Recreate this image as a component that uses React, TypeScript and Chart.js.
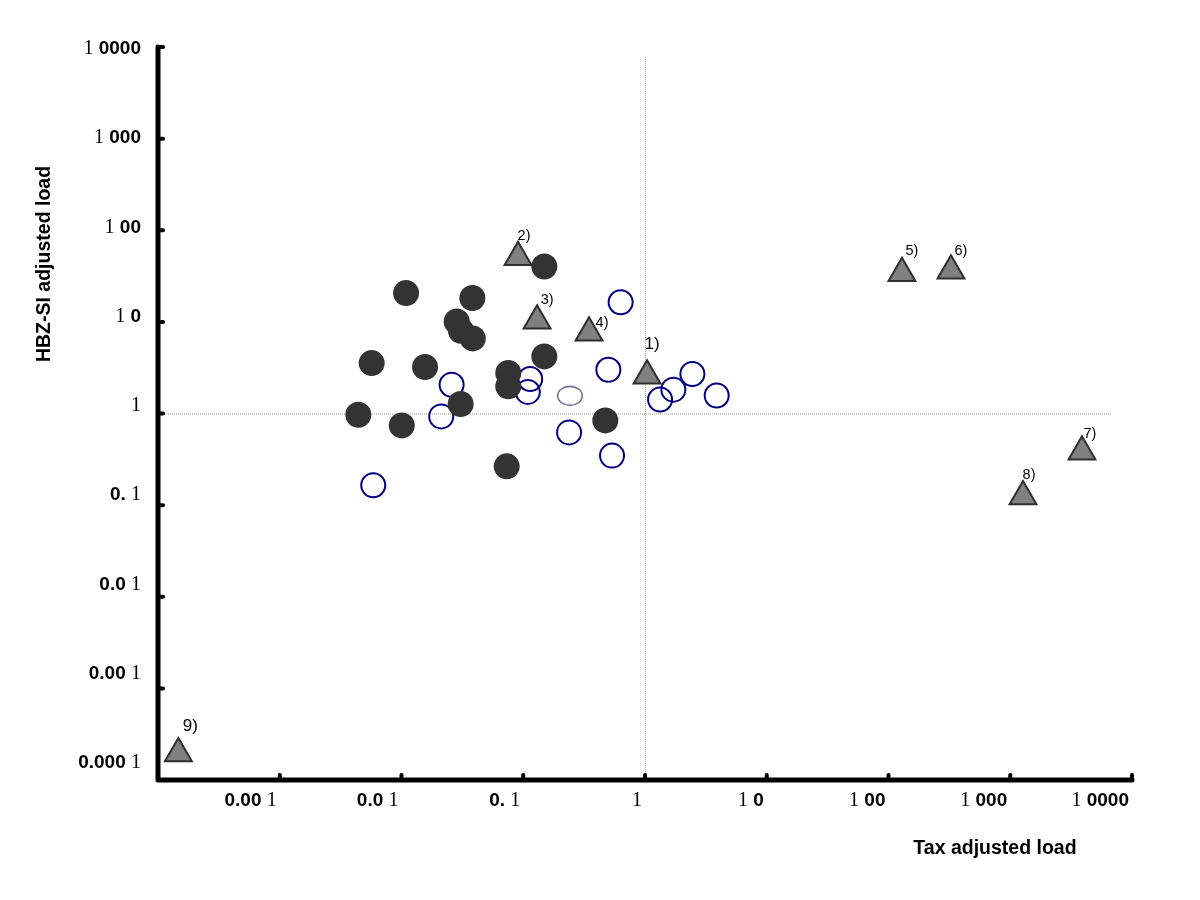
import React, { useEffect, useRef } from "react";
import { Chart, registerables } from "chart.js";

Chart.register(...registerables);

// Axis decades and their printed labels
const tickValues = [0.0001, 0.001, 0.01, 0.1, 1, 10, 100, 1000, 10000];
const tickLabels = ["0.000 1", "0.00 1", "0.0 1", "0. 1", "1", "1 0", "1 00", "1 000", "1 0000"];

// Numbered samples (grey triangles)
const triangleNames = ["1)", "2)", "3)", "4)", "5)", "6)", "7)", "8)", "9)"];
const triangleX = [1.04, 0.0906, 0.13, 0.347, 129, 326, 3882, 1273, 0.000147];
const triangleY = [2.58, 50.6, 10.3, 7.6, 33.9, 36.1, 0.383, 0.124, 0.000195];

// Filled dark circles
const filledX = [0.149, 0.0109, 0.0382, 0.0284, 0.0308, 0.0385, 0.00569, 0.0156, 0.149, 0.0753, 0.0753, 0.0306, 0.00442, 0.01005, 0.472, 0.0731];
const filledY = [40.2, 20.6, 18.2, 10.1, 8.0, 6.6, 3.55, 3.22, 4.2, 2.77, 1.98, 1.27, 0.97, 0.741, 0.841, 0.265];

// Open navy circles
const openX = [0.631, 0.0258, 0.114, 0.109, 0.5, 0.0212, 0.238, 0.536, 0.00586, 1.33, 1.71, 2.45, 3.88];
const openY = [16.4, 2.06, 2.38, 1.72, 3.0, 0.93, 0.622, 0.347, 0.165, 1.42, 1.82, 2.7, 1.57];

// Thin outlined ellipse
const thinX = [0.242];
const thinY = [1.56];

// Reference lines
const refX = 1;
const refY = 1;

const xTitle = "Tax adjusted load";
const yTitle = "HBZ-SI adjusted load";

// label styling (pixel offsets from marker centre, font size)
const triangleLabelStyle = [
  { dx: 5, dy: -31, size: 17 },
  { dx: 6, dy: -21, size: 14.5 },
  { dx: 10, dy: -21, size: 14.5 },
  { dx: 13, dy: -10, size: 14.5 },
  { dx: 10, dy: -22, size: 14.5 },
  { dx: 10, dy: -20, size: 14.5 },
  { dx: 8, dy: -18, size: 14.5 },
  { dx: 6, dy: -22, size: 14.5 },
  { dx: 12, dy: -27, size: 17 },
];

const SANS = '"Liberation Sans", Arial, sans-serif';
const SERIF = '"Liberation Serif", "Times New Roman", serif';

function drawMixed(ctx: CanvasRenderingContext2D, text: string, x: number, y: number, align: "right" | "center") {
  const segs: { t: string; serif: boolean }[] = [];
  for (const ch of text) {
    const serif = ch === "1";
    const last = segs[segs.length - 1];
    if (last && last.serif === serif) last.t += ch;
    else segs.push({ t: ch, serif });
  }
  const fontOf = (s: boolean) => (s ? `20px ${SERIF}` : `bold 19px ${SANS}`);
  let total = 0;
  const widths = segs.map((s) => {
    ctx.font = fontOf(s.serif);
    const w = ctx.measureText(s.t).width;
    total += w;
    return w;
  });
  let cx = align === "right" ? x - total : x - total / 2;
  ctx.textAlign = "left";
  ctx.textBaseline = "middle";
  ctx.fillStyle = "#000";
  segs.forEach((s, i) => {
    ctx.font = fontOf(s.serif);
    ctx.fillText(s.t, cx, y);
    cx += widths[i];
  });
}

const decoPlugin = {
  id: "deco",
  beforeDatasetsDraw(chart: any) {
    const { ctx, chartArea, scales } = chart;
    const { left, right, top, bottom } = chartArea;
    const px = scales.x.getPixelForValue(refX);
    const py = scales.y.getPixelForValue(refY);
    ctx.save();
    ctx.strokeStyle = "#a0a0a0";
    ctx.lineWidth = 1;
    ctx.setLineDash([1, 1]);
    ctx.beginPath();
    ctx.moveTo(px + 0.5, top + 10);
    ctx.lineTo(px + 0.5, bottom);
    ctx.moveTo(left, py + 0.5);
    ctx.lineTo(right - 20, py + 0.5);
    ctx.stroke();
    ctx.restore();
  },
  afterDraw(chart: any) {
    const { ctx, chartArea, scales } = chart;
    const { left, right, top, bottom } = chartArea;
    ctx.save();
    // axes
    ctx.strokeStyle = "#000";
    ctx.lineWidth = 5;
    ctx.lineCap = "round";
    ctx.lineJoin = "round";
    ctx.beginPath();
    ctx.moveTo(left, top);
    ctx.lineTo(left, bottom);
    ctx.lineTo(right, bottom);
    ctx.stroke();
    ctx.lineWidth = 4;
    tickValues.forEach((v, i) => {
      if (i === 0) return;
      const yy = scales.y.getPixelForValue(v);
      ctx.beginPath();
      ctx.moveTo(left, yy);
      ctx.lineTo(left + 5, yy);
      ctx.stroke();
      const xx = scales.x.getPixelForValue(v);
      ctx.beginPath();
      ctx.moveTo(xx, bottom);
      ctx.lineTo(xx, bottom - 5);
      ctx.stroke();
    });
    // tick labels
    tickValues.forEach((v, i) => {
      const yy = scales.y.getPixelForValue(v);
      const ly = top + 2 + (yy - top) * 0.974;
      drawMixed(ctx, tickLabels[i], left - 17, ly, "right");
      if (i > 0) {
        const xx = scales.x.getPixelForValue(v);
        drawMixed(ctx, tickLabels[i], xx - 3, bottom + 21, "right");
      }
    });
    // titles
    ctx.fillStyle = "#000";
    ctx.font = `bold 19.5px ${SANS}`;
    ctx.textAlign = "center";
    ctx.textBaseline = "middle";
    ctx.fillText(xTitle, 995, bottom + 69);
    ctx.save();
    ctx.translate(45, 264);
    ctx.rotate(-Math.PI / 2);
    ctx.fillText(yTitle, 0, 0);
    ctx.restore();
    // triangle labels
    const meta = chart.getDatasetMeta(0);
    meta.data.forEach((pt: any, i: number) => {
      const st = triangleLabelStyle[i];
      ctx.font = `${st.size}px ${SANS}`;
      ctx.textAlign = "center";
      ctx.textBaseline = "middle";
      ctx.fillStyle = "#000";
      ctx.fillText(triangleNames[i], pt.x + st.dx, pt.y + st.dy);
    });
    ctx.restore();
  },
};

export default function App() {
  const ref = useRef<HTMLCanvasElement | null>(null);
  useEffect(() => {
    if (!ref.current) return;
    const ell = document.createElement("canvas");
    ell.width = 28;
    ell.height = 22;
    const ec = ell.getContext("2d")!;
    ec.strokeStyle = "#5a5a80";
    ec.lineWidth = 1.3;
    ec.beginPath();
    ec.ellipse(14, 11, 12.3, 9.5, 0, 0, Math.PI * 2);
    ec.stroke();

    const chart = new Chart(ref.current, {
      type: "scatter",
      data: {
        datasets: [
          {
            label: "Numbered",
            data: triangleX.map((x, i) => ({ x, y: triangleY[i] })),
            pointStyle: "triangle",
            pointRadius: 15.5,
            backgroundColor: "#808080",
            borderColor: "#2e2e2e",
            borderWidth: 2,
          },
          {
            label: "Filled",
            data: filledX.map((x, i) => ({ x, y: filledY[i] })),
            pointStyle: "circle",
            pointRadius: 13,
            backgroundColor: "#333333",
            borderColor: "#333333",
            borderWidth: 0,
          },
          {
            label: "Thin",
            data: thinX.map((x, i) => ({ x, y: thinY[i] })),
            pointStyle: ell as any,
            pointRadius: 12,
          },
          {
            label: "Open",
            data: openX.map((x, i) => ({ x, y: openY[i] })),
            pointStyle: "circle",
            pointRadius: 12,
            backgroundColor: "rgba(255,255,255,0)",
            borderColor: "#000080",
            borderWidth: 2,
          },
        ],
      },
      options: {
        responsive: false,
        animation: false,
        events: [],
        layout: { padding: { left: 158, top: 47, right: 68, bottom: 120 } },
        plugins: { legend: { display: false }, tooltip: { enabled: false } },
        scales: {
          x: {
            type: "logarithmic",
            min: tickValues[0],
            max: tickValues[tickValues.length - 1],
            afterBuildTicks: (s: any) => {
              s.ticks = tickValues.map((v) => ({ value: v }));
            },
            ticks: { display: false },
            grid: { display: false, drawTicks: false },
            border: { display: false },
          },
          y: {
            type: "logarithmic",
            min: tickValues[0],
            max: tickValues[tickValues.length - 1],
            afterBuildTicks: (s: any) => {
              s.ticks = tickValues.map((v) => ({ value: v }));
            },
            ticks: { display: false },
            grid: { display: false, drawTicks: false },
            border: { display: false },
          },
        },
      },
      plugins: [decoPlugin],
    });
    return () => chart.destroy();
  }, []);
  return (
    <div style={{ position: "fixed", left: 0, top: 0, width: 1200, height: 900, background: "#fff" }}>
      <canvas ref={ref} width={1200} height={900} style={{ width: 1200, height: 900, display: "block" }} />
    </div>
  );
}
